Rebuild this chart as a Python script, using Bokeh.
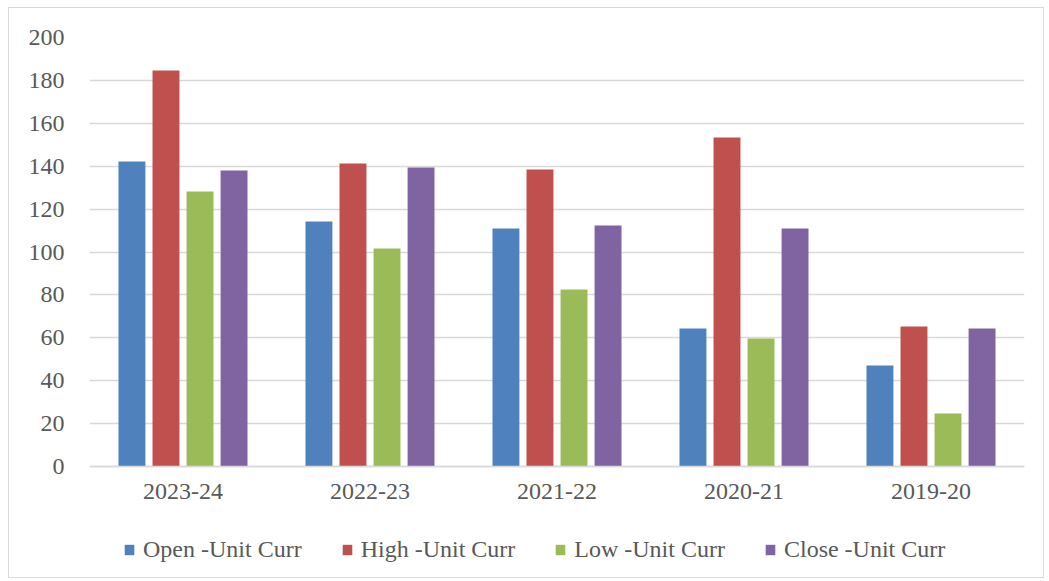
from bokeh.plotting import figure
from bokeh.models import FactorRange, Legend, LegendItem, FixedTicker, ColumnDataSource, Range1d
from bokeh.transform import dodge
from bokeh.embed import file_html
from bokeh.resources import INLINE

categories = ["2023-24", "2022-23", "2021-22", "2020-21", "2019-20"]
series_names = ["Open -Unit Curr", "High -Unit Curr", "Low -Unit Curr", "Close -Unit Curr"]
open_vals = [142.2, 114.2, 111.0, 64.3, 47.1]
high_vals = [184.6, 141.3, 138.5, 153.4, 65.3]
low_vals = [128.2, 101.6, 82.5, 59.7, 24.7]
close_vals = [138.0, 139.4, 112.4, 111.0, 64.3]
y_ticks = list(range(0, 201, 20))

colors = ["#4F81BD", "#C0504D", "#9BBB59", "#8064A2"]
offsets = [-0.273, -0.091, 0.091, 0.273]
FONT = "Liberation Serif"
TXT = "#595959"

W, H = 1036, 571
TOP, BOTTOM = 29, 4
frame_h = H - TOP - BOTTOM
plot_px = 429.0  # pixel height of the 0..200 value area
y_start = -(frame_h - plot_px) * 200.0 / plot_px

src = ColumnDataSource(dict(cat=categories, open=open_vals, high=high_vals, low=low_vals, close=close_vals))

p = figure(x_range=FactorRange(*categories), y_range=Range1d(y_start, 200),
           width=W, height=H, output_backend="svg", toolbar_location=None,
           min_border_left=80, min_border_right=21, min_border_top=TOP, min_border_bottom=BOTTOM)
p.margin = (7, 0, 0, 8)
p.styles = {"border": "1.5px solid #D9D9D9"}
p.outline_line_color = None
p.x_range.range_padding = 0

renderers = []
for key, col, off in zip(["open", "high", "low", "close"], colors, offsets):
    r = p.vbar(x=dodge("cat", off, range=p.x_range), top=key, width=0.144, source=src,
               fill_color=col, line_color=None)
    renderers.append(r)

p.yaxis.ticker = FixedTicker(ticks=y_ticks)
p.ygrid.grid_line_color = "#D9D9D9"
p.ygrid.grid_line_width = 1.5
p.xgrid.grid_line_color = None

p.yaxis.axis_line_color = None
p.yaxis.major_tick_line_color = None
p.yaxis.minor_tick_line_color = None
p.yaxis.major_label_standoff = 19
p.xaxis.fixed_location = 0
p.xaxis.axis_line_color = "#D9D9D9"
p.xaxis.axis_line_width = 1.5
p.xaxis.major_tick_line_color = None
p.xaxis.minor_tick_line_color = None
p.xaxis.major_label_standoff = 11
for ax in (p.xaxis, p.yaxis):
    ax.major_label_text_font = FONT
    ax.major_label_text_font_size = "24px"
    ax.major_label_text_color = TXT

legend = Legend(items=[LegendItem(label=n, renderers=[r]) for n, r in zip(series_names, renderers)],
                orientation="horizontal", location=(34, 12))
legend.label_text_font = FONT
legend.label_text_font_size = "24px"
legend.label_text_color = TXT
legend.glyph_width = 12
legend.glyph_height = 13
legend.label_standoff = 8
legend.spacing = 39
legend.border_line_color = None
legend.background_fill_alpha = 0
legend.padding = 0
legend.margin = 0
p.add_layout(legend, "center")

open("out.html", "w").write(file_html(p, INLINE))
